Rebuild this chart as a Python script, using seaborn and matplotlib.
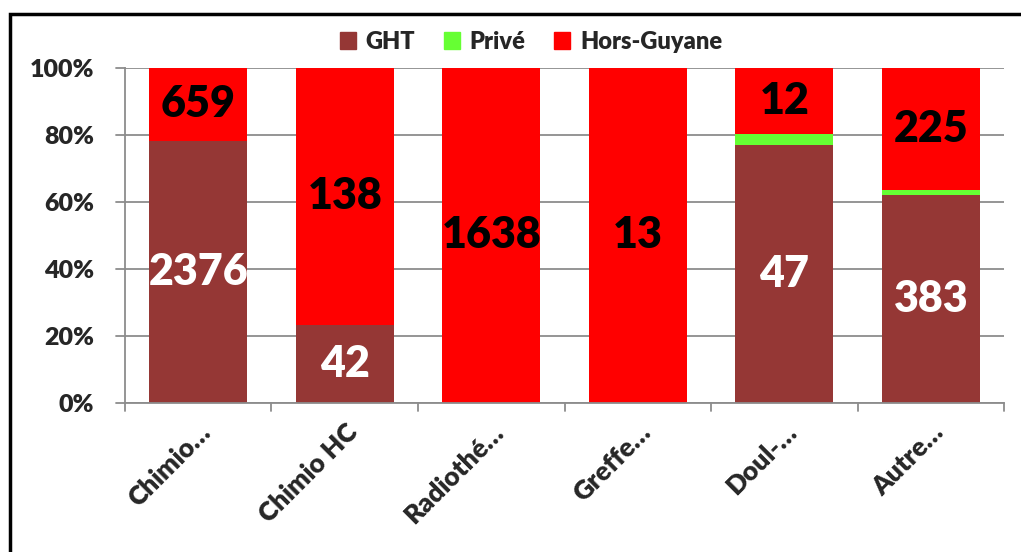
import seaborn as sns
import matplotlib.pyplot as plt
import pandas as pd
from matplotlib.patches import Rectangle, Patch

categories = ["Chimio…", "Chimio HC", "Radiothé…", "Greffe…", "Doul-…", "Autre…"]
ght = [2376, 42, 0, 0, 47, 383]
prive = [0, 0, 0, 0, 2, 10]
hors_guyane = [659, 138, 1638, 13, 12, 225]

colors = {"GHT": "#953735", "Privé": "#66FF33", "Hors-Guyane": "#FF0000"}

df = pd.DataFrame({"cat": categories, "GHT": ght, "Privé": prive, "Hors-Guyane": hors_guyane})
df["total"] = df["GHT"] + df["Privé"] + df["Hors-Guyane"]
df["p_ght"] = df["GHT"] / df["total"] * 100
df["p_prive"] = (df["GHT"] + df["Privé"]) / df["total"] * 100
df["p_all"] = 100.0

sns.set_style("white")
plt.rcParams["font.family"] = ["Lato", "DejaVu Sans"]
W = "heavy"

fig = plt.figure(figsize=(10.21, 5.52), dpi=100)
ax = fig.add_axes([0.1224, 0.27, 0.861, 0.607])

w = 0.67
for col, key in [("p_all", "Hors-Guyane"), ("p_prive", "Privé"), ("p_ght", "GHT")]:
    sns.barplot(data=df, x="cat", y=col, color=colors[key], saturation=1, width=w,
                linewidth=0, ax=ax)

ax.set_xlim(-0.5, len(categories) - 0.5)
ax.set_ylim(0, 100)
ax.set_yticks(range(0, 101, 20))
ax.set_yticklabels([f"{v}%" for v in range(0, 101, 20)], fontsize=18, fontweight=W)
ax.set_xticks(range(len(categories)))
ax.set_xticklabels(categories, rotation=45, ha="right", rotation_mode="anchor",
                   fontsize=19, fontweight=W)
ax.tick_params(axis="x", length=0, pad=12)
ax.tick_params(axis="y", length=0, pad=22)
ax.set_xlabel("")
ax.set_ylabel("")
ax.grid(axis="y", color="#8c8c8c", lw=1.3)
ax.set_axisbelow(True)
for s in ["top", "right"]:
    ax.spines[s].set_visible(False)
for s in ["left", "bottom"]:
    ax.spines[s].set_color("#8c8c8c")
    ax.spines[s].set_linewidth(1.3)

# category boundary ticks below the axis
for b in [i - 0.5 for i in range(len(categories) + 1)]:
    ax.plot([b, b], [0, -2.5], color="#8c8c8c", lw=1.3, clip_on=False)
for v in range(0, 101, 20):
    ax.plot([-0.56, -0.5], [v, v], color="#8c8c8c", lw=1.3, clip_on=False)

for i, row in df.iterrows():
    if row["GHT"] > 0:
        ax.text(i, row["p_ght"] / 2, str(row["GHT"]), ha="center", va="center",
                color="white", fontsize=31, fontweight=W)
    if row["Hors-Guyane"] > 0:
        ax.text(i, (row["p_prive"] + 100) / 2, str(row["Hors-Guyane"]), ha="center",
                va="center", color="black", fontsize=31, fontweight=W)

handles = [Patch(color=c, label=k) for k, c in colors.items()]
fig.legend(handles=handles, loc="center", bbox_to_anchor=(0.52, 0.924), ncol=3,
           frameon=False, handlelength=0.7, handleheight=0.7,
           handletextpad=0.4, columnspacing=1.2, prop={"weight": W, "size": 17})

fig.add_artist(Rectangle((0.0098, -0.05), 1.2, 1.025, transform=fig.transFigure,
                         fill=False, edgecolor="black", lw=2.5))

fig.savefig("out.png", dpi=100)
